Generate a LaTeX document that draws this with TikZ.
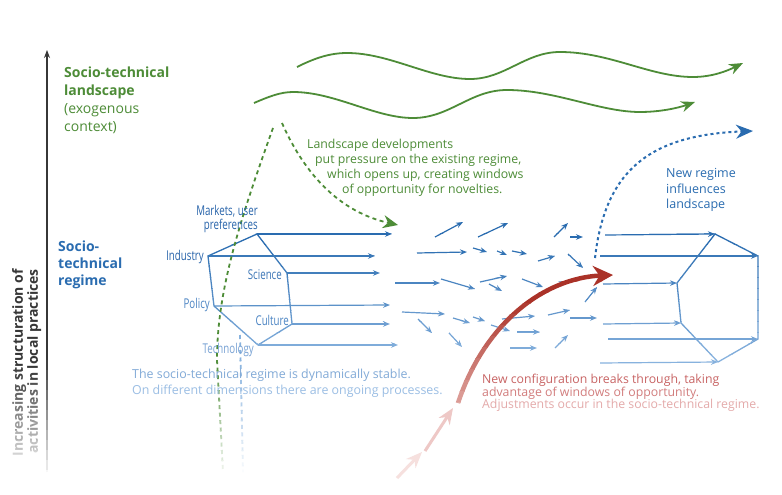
\documentclass[tikz,border=0pt]{standalone}
\usepackage{fontspec}
\setmainfont{Open Sans}
\newfontfamily\condfont[FakeStretch=0.72]{Open Sans}
\usetikzlibrary{arrows.meta}
\definecolor{lgreen}{RGB}{77,140,55}
\definecolor{bdark}{RGB}{42,108,176}
\definecolor{blight}{RGB}{135,178,222}
\definecolor{rdark}{RGB}{170,50,40}
\definecolor{rlight}{RGB}{228,175,170}
\definecolor{axgray}{RGB}{55,55,55}
\definecolor{redtxtA}{RGB}{200,100,100}
\definecolor{redtxtB}{RGB}{210,125,125}
\definecolor{redtxtC}{RGB}{228,170,170}
\definecolor{rfaintA}{RGB}{238,200,198}
\definecolor{rfaintB}{RGB}{246,224,222}
\definecolor{btxtA}{RGB}{130,170,215}
\definecolor{btxtB}{RGB}{155,190,228}
\definecolor{lblA}{RGB}{40,100,170}
\definecolor{lblB}{RGB}{60,118,182}
\definecolor{lblC}{RGB}{75,132,195}
\definecolor{lblD}{RGB}{120,162,212}
\colorlet{bandcol}{bdark}
\colorlet{redcol}{rdark}
\colorlet{axcol}{axgray}
\colorlet{axlcol}{axgray}
\colorlet{gcol}{lgreen}
\colorlet{bdcol}{blight}
\tikzset{
  hexline/.style={line width=1.3pt, draw=bandcol, line join=round},
  barrow/.style={line width=1.2pt, draw=bandcol, -{Stealth[length=7pt,width=5.5pt]}},
  wave/.style={line width=1.8pt, draw=lgreen, -{Stealth[length=14pt,width=11pt]}},
  gdash/.style={line width=1.8pt, dash pattern=on 4pt off 3.5pt},
  lbl/.style={font=\condfont\fontsize{13.5}{14}\selectfont, inner sep=0pt},
  gtxt/.style={font=\fontsize{12.3}{15}\selectfont, text=lgreen, inner sep=0pt, anchor=west},
  rtxt/.style={font=\fontsize{12.3}{13}\selectfont, inner sep=0pt, anchor=west},
  stxt/.style={font=\fontsize{12.4}{14}\selectfont, inner sep=0pt, anchor=west},
}
\newcommand\drawbluestuff{%
  \draw[hexline] (LA) -- (LB) -- (LC) -- (LD) -- (LE) -- (LF) -- cycle;
  \draw[barrow] (LA) -- (392,234);
  \draw[barrow] (LB) -- (375,256);
  \draw[barrow] (LF) -- (380,273);
  \draw[barrow] (LC) -- (390,305);
  \draw[barrow] (LE) -- (390,324);
  \draw[barrow] (LD) -- (398,345);
  \foreach \ax/\ay/\bx/\by in {435/237/463/222, 478/237/508/223, 554/237/568/223,
     570/237/583/237, 417/253/467/252, 473/248/487/252, 497/251/507/255,
     512/251/527/254, 538/261/555/256, 568/254/583/268, 395/283/440/283,
     441/279/475/289, 480/282/507/276, 489/284/502/291, 522/279/543/287,
     549/289/566/281, 585/302/597/287, 402/312/445/314, 418/319/432/333,
     453/318/470/323, 473/317/485/321, 491/325/510/331, 449/333/462/347,
     502/319/535/316, 548/315/570/310, 570/318/597/318, 517/332/540/332,
     510/348/537/348, 555/348/568/335}
    {\draw[barrow] (\ax,\ay) -- (\bx,\by);}
  \draw[hexline] (RA) -- (RB) -- (RC) -- (RD) -- (RE) -- (RF) -- cycle;
  \draw[barrow] (605,235) -- (RA);
  \draw[barrow] (600,256) -- (RB);
  \draw[barrow] (603,284) -- (RF);
  \draw[barrow] (603,324) -- (RE);
  \draw[barrow] (608,339) -- (RC);
  \draw[barrow] (600,363) -- (RD);
}
\begin{document}
\begin{tikzpicture}[x=1pt,y=-1pt]
\useasboundingbox (0,0) rectangle (782,495);
\fill[white] (0,0) rectangle (782,495);
% hexagon vertices
\coordinate (LA) at (257,234);
\coordinate (LB) at (208,256);
\coordinate (LC) at (214,306);
\coordinate (LD) at (258,345);
\coordinate (LE) at (292,324);
\coordinate (LF) at (287,273);
\coordinate (RA) at (715,234);
\coordinate (RB) at (758,256);
\coordinate (RC) at (758,339);
\coordinate (RD) at (718,362);
\coordinate (RE) at (681,323);
\coordinate (RF) at (677,283);

% landscape waves
\draw[wave] (297,67) .. controls (315,58) and (330,53) .. (347,53)
  .. controls (390,53) and (430,79) .. (470,79)
  .. controls (505,79) and (525,52) .. (560,52)
  .. controls (610,52) and (650,77) .. (693,77)
  .. controls (712,77) and (727,71) .. (743,63);
\draw[wave] (254,103) .. controls (268,97) and (280,92) .. (293,92)
  .. controls (335,92) and (375,118) .. (413,118)
  .. controls (450,118) and (470,90) .. (507,90)
  .. controls (555,90) and (600,112) .. (640,112)
  .. controls (660,112) and (678,108) .. (695,102);

% landscape pressure arrow
\draw[lgreen, gdash, -{Stealth[length=15pt,width=13pt]}] (282,123) .. controls (305,175) and (340,212) .. (398,225);

% regime (blue) with vertical colour gradient
\foreach \i in {0,...,13}{
  \pgfmathsetmacro\yA{ifthenelse(\i==0,0,222+\i*11)}
  \pgfmathsetmacro\yB{ifthenelse(\i==13,495,233.5+\i*11)}
  \pgfmathtruncatemacro\mix{max(0,min(100,100-(227.5+\i*11-240)*100/120))}
  \colorlet{bandcol}{bdark!\mix!blight}
  \begin{scope}
    \clip (0,\yA) rectangle (782,\yB);
    \drawbluestuff
  \end{scope}
}

% new regime influences landscape
\draw[bdark, line width=2pt, dash pattern=on 3pt off 3pt, -{Stealth[length=17pt,width=14pt]}]
  (595,258) .. controls (605,170) and (650,135) .. (753,131);

% left fading items: axis, axis label, dashed lines
\foreach \i in {0,...,13}{
  \pgfmathsetmacro\yA{ifthenelse(\i==0,0,340+\i*10)}
  \pgfmathsetmacro\yB{ifthenelse(\i==13,495,350.5+\i*10)}
  \pgfmathtruncatemacro\ft{max(8,min(100,100-(345+\i*10-370)*100/110))}
  \pgfmathtruncatemacro\fl{max(0,min(100,100-(345+\i*10-360)*100/120))}
  \colorlet{axcol}{axgray!\ft!white}
  \colorlet{axlcol}{axgray!\fl!white}
  \colorlet{gcol}{lgreen!\fl!white}
  \colorlet{bdcol}{blight!\fl!white}
  \begin{scope}
    \clip (0,\yA) rectangle (782,\yB);
    \draw[axlcol, line width=1.2pt, -{Stealth[length=8pt,width=6pt]}] (47,472) -- (47,50);
    \node[rotate=90, anchor=north east, align=right, inner sep=0pt, text=axcol,
      font=\bfseries\fontsize{14}{13.5}\selectfont] (axlabel) at (12,269)
      {Increasing structuration of\\activities in local practices};
    \draw[gcol, gdash] (273,128) .. controls (240,220) and (217,290) .. (217,360) -- (223,472);
    \draw[bdcol, gdash] (240,335) -- (243,472);
  \end{scope}
}

% new configuration (red) with gradient
\draw[rfaintB, line width=3pt, -{Stealth[length=16pt,width=13pt]}] (397,478) -- (422,452);
\draw[rfaintA, line width=3pt, -{Stealth[length=16pt,width=13pt]}] (425,451) -- (453,408);
\foreach \i in {0,...,12}{
  \pgfmathsetmacro\yA{ifthenelse(\i==0,0,270+\i*11)}
  \pgfmathsetmacro\yB{ifthenelse(\i==12,495,281.5+\i*11)}
  \pgfmathtruncatemacro\mix{max(0,min(100,100-(275.5+\i*11-300)*100/115))}
  \colorlet{redcol}{rdark!\mix!rlight}
  \begin{scope}
    \clip (0,\yA) rectangle (782,\yB);
    \draw[redcol, line width=4.5pt, -{Stealth[length=20pt,width=20pt]}]
      (458,403) .. controls (485,322) and (545,278) .. (613,275);
  \end{scope}
}

% texts
\node[anchor=north west, align=left, inner sep=0pt, text=lgreen,
  font=\fontsize{14}{18}\selectfont] (land) at (64,67)
  {\textbf{Socio-technical}\\\textbf{landscape}\\(exogenous\\context)};
\node[anchor=north west, align=left, inner sep=0pt, text=bdark,
  font=\bfseries\fontsize{14}{17}\selectfont] (regime) at (58,241)
  {Socio-\\technical\\regime};
\node[gtxt] (g1) at (307,145) {Landscape developments};
\node[gtxt] (g2) at (315,160) {put pressure on the existing regime,};
\node[gtxt] (g3) at (327,175) {which opens up, creating windows};
\node[gtxt] (g4) at (342,190) {of opportunity for novelties.};

\node[lbl, anchor=east, align=right, text=lblA] (mk) at (258,219) {Markets, user\\preferences};
\node[lbl, anchor=east, text=lblA] (ind) at (204,257) {Industry};
\node[lbl, anchor=east, text=lblB] (sci) at (282,275) {Science};
\node[lbl, anchor=east, text=lblC] (pol) at (210,305) {Policy};
\node[lbl, anchor=east, text=lblC] (cul) at (289,320) {Culture};
\node[lbl, anchor=east, text=lblD] (tec) at (254,350) {Technology};

\node[anchor=west, align=left, inner sep=0pt, text=bdark,
  font=\fontsize{12.5}{15.5}\selectfont] (nr) at (666,190) {New regime\\influences\\landscape};

\node[stxt, text=btxtA] (st1) at (132,375) {The socio-technical regime is dynamically stable.};
\node[stxt, text=btxtB] (st2) at (132,391) {On different dimensions there are ongoing processes.};

\node[rtxt, text=redtxtA] (rt1) at (482,380) {New configuration breaks through, taking};
\node[rtxt, text=redtxtB] (rt2) at (482,393) {advantage of windows of opportunity.};
\node[rtxt, text=redtxtC] (rt3) at (482,405) {Adjustments occur in the socio-technical regime.};
\end{tikzpicture}
\end{document}
